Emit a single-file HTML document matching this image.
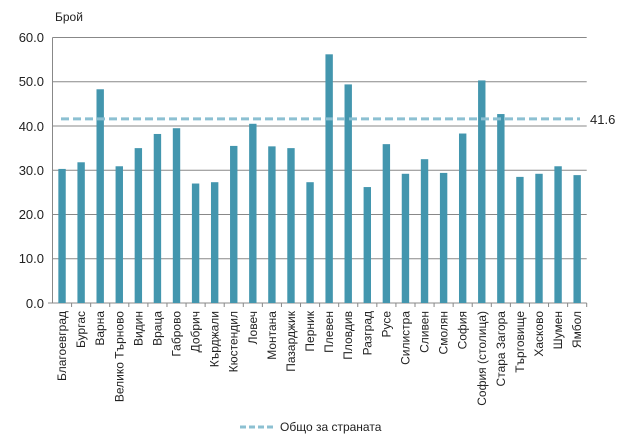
<!DOCTYPE html>
<html><head><meta charset="utf-8"><style>
body{margin:0;background:#fff;}
svg{display:block;font-family:"Liberation Sans","DejaVu Sans",sans-serif;}
</style></head><body>
<svg width="630" height="441" viewBox="0 0 630 441" xmlns="http://www.w3.org/2000/svg">
<text x="55" y="21" font-size="12" fill="#222">Брой</text>
<g stroke="#888" stroke-width="1">
<line x1="52.5" y1="37.5" x2="586.7" y2="37.5"/>
<line x1="52.5" y1="81.75" x2="586.7" y2="81.75"/>
<line x1="52.5" y1="126" x2="586.7" y2="126"/>
<line x1="52.5" y1="170.25" x2="586.7" y2="170.25"/>
<line x1="52.5" y1="214.5" x2="586.7" y2="214.5"/>
<line x1="52.5" y1="258.75" x2="586.7" y2="258.75"/>
<line x1="52.5" y1="37.5" x2="52.5" y2="303"/>
<line x1="48" y1="303" x2="586.7" y2="303"/>
</g>
<g font-size="13" fill="#222" text-anchor="end">
<text x="44" y="42">60.0</text><text x="44" y="86">50.0</text><text x="44" y="131">40.0</text>
<text x="44" y="175">30.0</text><text x="44" y="219">20.0</text><text x="44" y="263">10.0</text><text x="44" y="308">0.0</text>
</g>
<g id="bars" fill="#4396ae"></g>
<g id="ticks" stroke="#888"></g>
<g id="labels" font-size="12" fill="#222"></g>
<line x1="61" y1="118.9" x2="580" y2="118.9" stroke="#8cc0d2" stroke-width="3" stroke-dasharray="8,4"/>
<text x="590" y="124" font-size="13" fill="#222">41.6</text>
<line x1="240" y1="427" x2="275" y2="427" stroke="#8cc0d2" stroke-width="3" stroke-dasharray="6,3"/>
<text x="280" y="431" font-size="12" fill="#222">Общо за страната</text>
<script>
var d=[["Благоевград",30.3],["Бургас",31.8],["Варна",48.3],["Велико Търново",30.9],["Видин",35],["Враца",38.2],["Габрово",39.5],["Добрич",27],["Кърджали",27.3],["Кюстендил",35.5],["Ловеч",40.5],["Монтана",35.4],["Пазарджик",35],["Перник",27.3],["Плевен",56.2],["Пловдив",49.4],["Разград",26.2],["Русе",35.9],["Силистра",29.2],["Сливен",32.5],["Смолян",29.4],["София",38.3],["София (столица)",50.3],["Стара Загора",42.7],["Търговище",28.5],["Хасково",29.2],["Шумен",30.9],["Ямбол",28.9]];
var ns="http://www.w3.org/2000/svg",w=534.2/28,b=document.getElementById("bars"),t=document.getElementById("ticks"),l=document.getElementById("labels");
for(var i=0;i<28;i++){var cx=52.5+w*(i+0.5),h=d[i][1]*4.425;
var r=document.createElementNS(ns,"rect");r.setAttribute("x",cx-3.7);r.setAttribute("width",7.4);r.setAttribute("y",303-h);r.setAttribute("height",h);b.appendChild(r);
var k=document.createElementNS(ns,"line");var tx=52.5+w*(i+1);k.setAttribute("x1",tx);k.setAttribute("x2",tx);k.setAttribute("y1",303);k.setAttribute("y2",307);t.appendChild(k);
var s=document.createElementNS(ns,"text");s.setAttribute("transform","translate("+(cx+4)+",311) rotate(-90)");s.setAttribute("text-anchor","end");s.textContent=d[i][0];l.appendChild(s);}
</script>
</svg>
</body></html>
